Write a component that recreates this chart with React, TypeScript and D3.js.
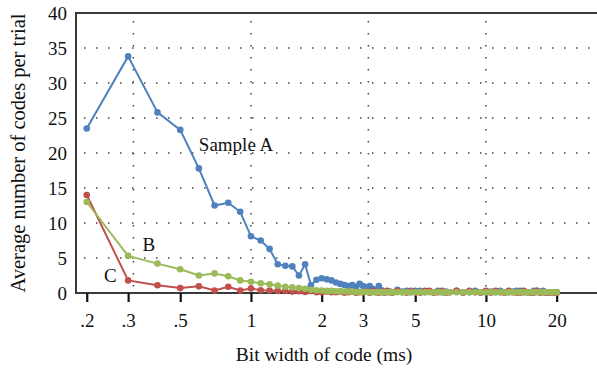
import { useEffect, useRef } from "react"
import * as d3 from "d3"

// bit width of code (ms), shared by the three samples
const bitWidth = [
  0.2, 0.3, 0.4, 0.5, 0.6, 0.7, 0.8, 0.9, 1.0,
  1.1, 1.2, 1.3, 1.4, 1.5, 1.6, 1.7, 1.8, 1.9, 2.0,
  2.1, 2.2, 2.3, 2.4, 2.5, 2.6, 2.7, 2.8, 2.9, 3.0,
  3.1, 3.2, 3.3, 3.4, 3.5, 3.6, 3.7, 3.8, 3.9, 4.0,
  4.2, 4.4, 4.6, 4.8, 5.0,
  5.25, 5.5, 5.75, 6.0, 6.25, 6.5, 6.75, 7.0,
  7.5, 8.0, 8.5, 9.0, 9.5, 10,
  10.5, 11, 11.5, 12, 12.5, 13, 13.5, 14, 14.5, 15, 15.5, 16, 16.5, 17, 17.5, 18, 18.5, 19, 19.5, 20,
]

const sampleA = [
  23.5, 33.8, 25.8, 23.3, 17.8, 12.5, 12.9, 11.6, 8.1,
  7.5, 6.3, 4.1, 3.9, 3.8, 2.5, 4.1, 1.1, 1.9, 2.1,
  1.95, 1.8, 1.5, 1.3, 1.15, 1.0, 1.15, 0.9, 1.3, 1.0,
  0.8, 1.0, 0.6, 0.4, 1.0, 0.4, 0.2, 0.15, 0.2, 0.1,
  0.45, 0.2, 0.3, 0.1, 0.3,
  0.3, 0.1, 0.2, 0.1, 0.3, 0.1, 0.2, 0.1,
  0.3, 0.1, 0.1, 0.3, 0.1, 0.1,
  0.2, 0.1, 0.3, 0.1, 0.1, 0.2, 0.3, 0.3, 0.1, 0.1, 0.1, 0.3, 0.3, 0.1, 0.3, 0.1, 0.1, 0.1, 0.1, 0.1,
]

const sampleB = [
  13.0, 5.3, 4.2, 3.4, 2.5, 2.8, 2.4, 1.8, 1.6,
  1.4, 1.25, 1.05, 0.9, 0.8, 0.7, 0.6, 0.45, 0.4, 0.35,
  0.3, 0.3, 0.25, 0.25, 0.2, 0.2, 0.2, 0.15, 0.15, 0.15,
  0.15, 0.1, 0.1, 0.1, 0.1, 0.1, 0.1, 0.1, 0.1, 0.1,
  0.1, 0.1, 0.1, 0.1, 0.1,
  0.1, 0.1, 0.1, 0.1, 0.1, 0.1, 0.1, 0.1,
  0.1, 0.1, 0.1, 0.1, 0.1, 0.1,
  0.1, 0.1, 0.1, 0.1, 0.1, 0.1, 0.1, 0.1, 0.1, 0.1, 0.1, 0.1, 0.1, 0.1, 0.1, 0.1, 0.1, 0.1, 0.1, 0.1,
]

const sampleC = [
  14.0, 1.8, 1.1, 0.7, 0.95, 0.35, 0.9, 0.35, 0.65,
  0.4, 0.35, 0.3, 0.3, 0.2, 0.25, 0.15, 0.3, 0.1, 0.1,
  0.2, 0.1, 0.1, 0.2, 0.05, 0.1, 0.2, 0.05, 0.1, 0.1,
  0.2, 0.05, 0.3, 0.1, 0.05, 0.2, 0.05, 0.3, 0.1, 0.05,
  0.3, 0.1, 0.05, 0.3, 0.1,
  0.05, 0.3, 0.3, 0.05, 0.1, 0.3, 0.05, 0.1,
  0.3, 0.05, 0.3, 0.1, 0.05, 0.3,
  0.05, 0.3, 0.1, 0.05, 0.3, 0.1, 0.05, 0.05, 0.3, 0.1, 0.05, 0.05, 0.3, 0.05, 0.1, 0.05, 0.05, 0.1, 0.05, 0.05,
]

const xTicks = [0.2, 0.3, 0.5, 1, 2, 3, 5, 10, 20]
const xTickLabels = [".2", ".3", ".5", "1", "2", "3", "5", "10", "20"]
const xGrid = [0.316, 1, 3.16, 10]
const yTicks = [0, 5, 10, 15, 20, 25, 30, 35, 40]

// drawn in this order so green ends up on top
const series = [
  { name: "Sample A", values: sampleA, color: "#4f81bd" },
  { name: "C", values: sampleC, color: "#c0504d" },
  { name: "B", values: sampleB, color: "#9bbb59" },
]

const labels = [
  { text: "Sample A", x: 0.6, y: 20.3 },
  { text: "B", x: 0.345, y: 6.0 },
  { text: "C", x: 0.237, y: 1.6 },
]

const W = 597
const H = 370
const FONT = "'Liberation Serif', 'Times New Roman', serif"

export default function App() {
  const svgRef = useRef<SVGSVGElement>(null)

  useEffect(() => {
    if (!svgRef.current) return
    const svg = d3.select(svgRef.current)
    svg.selectAll("*").remove()

    const left = 76, right = 597, top = 13, bottom = 293

    const x = d3.scaleLog().domain([0.18, 29.7]).range([left, right])
    const y = d3.scaleLinear().domain([0, 40]).range([bottom, top])

    // dotted grid
    const grid = svg.append("g").attr("stroke", "#444").attr("stroke-width", 1.5).attr("stroke-dasharray", "1.5 10.5")
    yTicks.filter(t => t > 0 && t < 40).forEach(t => {
      grid.append("line").attr("x1", left + 8).attr("x2", right).attr("y1", y(t)).attr("y2", y(t))
    })
    xGrid.forEach(g => {
      grid.append("line").attr("x1", x(g)).attr("x2", x(g)).attr("y1", top + 8).attr("y2", bottom)
    })

    // frame: left and top
    const frame = svg.append("g").attr("stroke", "#3a3a3a").attr("stroke-width", 2).attr("fill", "none")
    frame.append("line").attr("x1", left).attr("x2", left).attr("y1", top).attr("y2", bottom)
    frame.append("line").attr("x1", left - 1).attr("x2", right).attr("y1", top).attr("y2", top)

    // x axis
    const xAxis = svg.append("g")
      .attr("transform", `translate(0,${bottom})`)
      .call(d3.axisBottom(x).tickValues(xTicks).tickSize(9).tickPadding(12)
        .tickFormat((_d, i) => xTickLabels[i]))
    xAxis.select(".domain").attr("stroke", "#3a3a3a").attr("stroke-width", 2)
      .attr("d", `M${left - 1},0H${right}`)
    xAxis.selectAll(".tick line").attr("stroke", "#111").attr("stroke-width", 2.2)
    xAxis.selectAll("text").attr("fill", "#111").attr("font-family", FONT).attr("font-size", 19)

    // y axis labels only
    const yAxis = svg.append("g")
      .attr("transform", `translate(${left},0)`)
      .call(d3.axisLeft(y).tickValues(yTicks).tickSize(0).tickPadding(9))
    yAxis.select(".domain").remove()
    yAxis.selectAll("text").attr("fill", "#111").attr("font-family", FONT).attr("font-size", 19)

    // series
    const line = d3.line<number>()
      .x((_d, i) => x(bitWidth[i]))
      .y(d => y(d))

    series.forEach(s => {
      const g = svg.append("g")
      g.append("path")
        .attr("d", line(s.values))
        .attr("fill", "none")
        .attr("stroke", s.color)
        .attr("stroke-width", 2)
      g.selectAll("circle")
        .data(s.values)
        .join("circle")
        .attr("cx", (_d, i) => x(bitWidth[i]))
        .attr("cy", d => y(d))
        .attr("r", 3.3)
        .attr("fill", s.color)
    })

    // series labels
    labels.forEach(l => {
      svg.append("text")
        .attr("x", x(l.x))
        .attr("y", y(l.y))
        .attr("font-family", FONT)
        .attr("font-size", 19)
        .attr("fill", "#111")
        .text(l.text)
    })

    // axis titles
    svg.append("text")
      .attr("x", 324)
      .attr("y", 361)
      .attr("text-anchor", "middle")
      .attr("font-family", FONT)
      .attr("font-size", 19.5)
      .attr("fill", "#111")
      .text("Bit width of code (ms)")

    svg.append("text")
      .attr("transform", `translate(25,${153}) rotate(-90)`)
      .attr("text-anchor", "middle")
      .attr("font-family", FONT)
      .attr("font-size", 20.5)
      .attr("fill", "#111")
      .text("Average number of codes per trial")
  }, [])

  return (
    <svg
      ref={svgRef}
      width={W}
      height={H}
      style={{ position: "absolute", left: 0, top: 0, background: "#fff" }}
    />
  )
}
